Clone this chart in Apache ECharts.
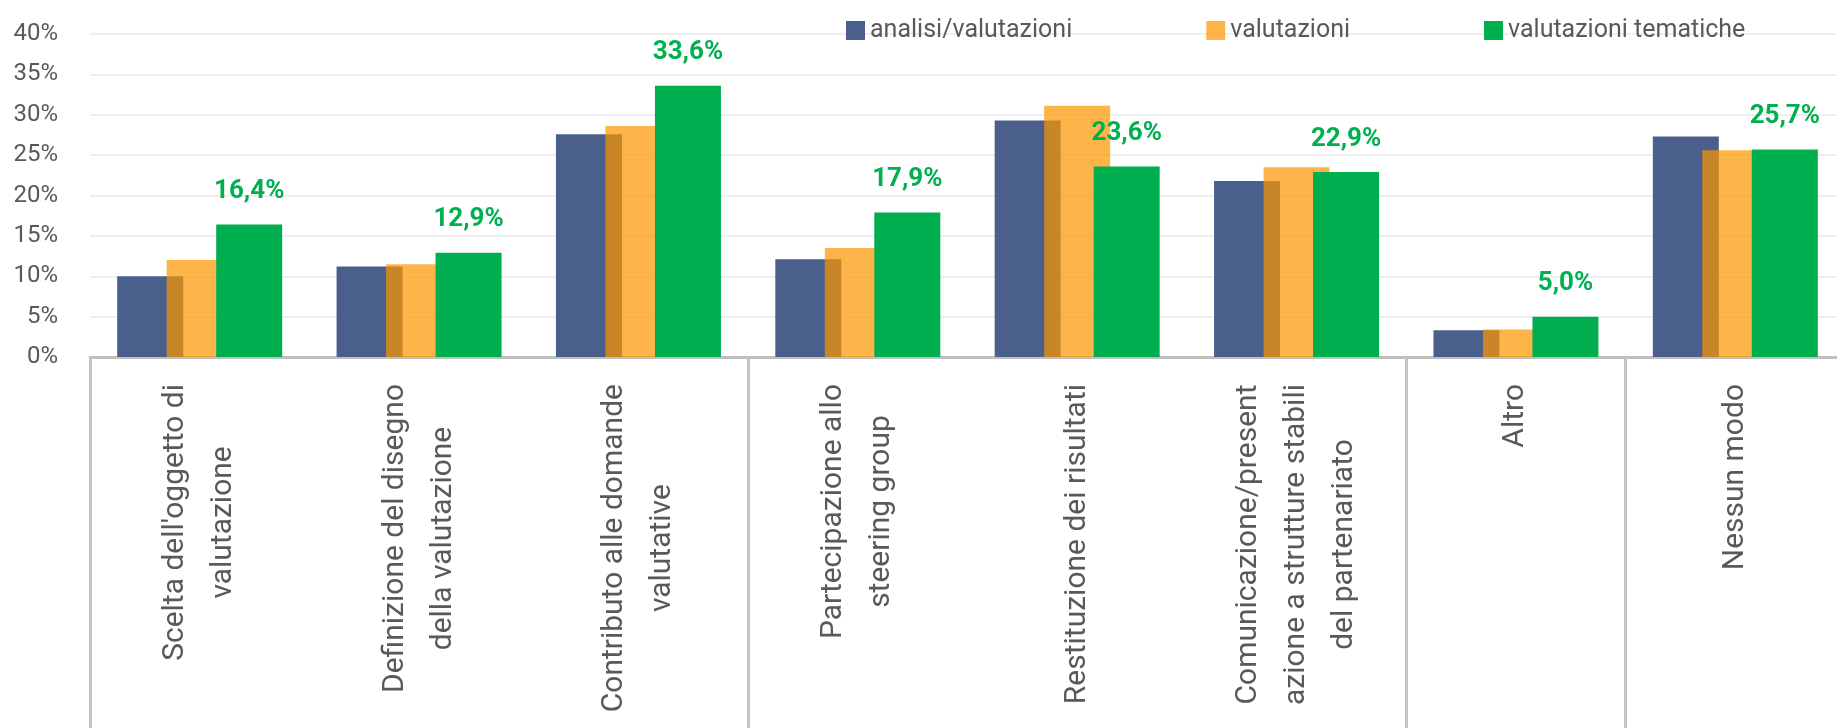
<!DOCTYPE html>
<html lang="it">
<head>
    <meta charset="UTF-8">
    <title>Grafico</title>
    <style>
        html, body { margin: 0; padding: 0; background: #fff; }
        .container { width: 1837px; height: 728px; }
    </style>
    <script src="https://cdn.jsdelivr.net/npm/echarts@6.0.0/dist/echarts.min.js"></script>
</head>
<body>
    <div class="container"></div>
    <script>
        // categorie (a capo come nell'originale)
        var categorie = [
            "Scelta dell'oggetto di\nvalutazione",
            'Definizione del disegno\ndella valutazione',
            'Contributo alle domande\nvalutative',
            'Partecipazione allo\nsteering group',
            'Restituzione dei risultati',
            'Comunicazione/present\nazione a strutture stabili\ndel partenariato',
            'Altro',
            'Nessun modo'
        ];
        var nomiSerie = ['analisi/valutazioni', 'valutazioni', 'valutazioni tematiche'];
        var analisiValutazioni = [10.0, 11.2, 27.6, 12.1, 29.3, 21.8, 3.3, 27.3];
        var valutazioni = [12.0, 11.5, 28.6, 13.5, 31.1, 23.5, 3.4, 25.6];
        var valutazioniTematiche = [16.4, 12.9, 33.6, 17.9, 23.6, 22.9, 5.0, 25.7];
        // separatori sull'asse x (indice della categoria a destra del separatore)
        var separatori = [0, 3, 6, 7];

        var grigio = '#595959';
        var font = 'Roboto, "Noto Sans", sans-serif';

        const main = document.getElementsByClassName('container')[0];
        const myChart = echarts.init(main, null, { renderer: 'canvas' });

        myChart.setOption({
            backgroundColor: '#ffffff',
            animation: false,
            textStyle: { fontFamily: font },
            legend: {
                left: 841,
                top: 13,
                itemWidth: 19,
                itemHeight: 19,
                itemGap: 134,
                icon: 'rect',
                textStyle: { fontSize: 25, color: grigio, fontFamily: font },
                data: nomiSerie
            },
            grid: {
                left: 90,
                right: -8,
                top: 34,
                bottom: 371,
                containLabel: false,
                outerBoundsMode: 'none'
            },
            xAxis: {
                type: 'category',
                data: categorie,
                axisLine: { lineStyle: { color: '#bfbfbf', width: 3 } },
                axisTick: {
                    show: true,
                    length: 375,
                    interval: function (index) {
                        return separatori.indexOf(index) >= 0;
                    },
                    lineStyle: { color: '#c4c4c4', width: 3 }
                },
                axisLabel: {
                    interval: 0,
                    rotate: 90,
                    margin: 27,
                    color: grigio,
                    fontSize: 30,
                    lineHeight: 48,
                    fontFamily: font,
                    formatter: function (v) {
                        return v.split('\n').map(function (s) { return '{c|' + s + '}'; }).join('\n');
                    },
                    rich: {
                        c: { align: 'center', fontSize: 30, lineHeight: 48, color: grigio, fontFamily: font }
                    }
                }
            },
            yAxis: {
                type: 'value',
                min: 0,
                max: 40,
                interval: 5,
                axisLine: { show: false },
                axisTick: { show: false },
                axisLabel: {
                    formatter: '{value}%',
                    fontSize: 24,
                    color: grigio,
                    margin: 32,
                    fontFamily: font
                },
                splitLine: { lineStyle: { color: '#efefef', width: 2 } }
            },
            series: [
                {
                    name: nomiSerie[0],
                    type: 'bar',
                    barWidth: 66,
                    barGap: '-25%',
                    itemStyle: { color: '#4a5f8c' },
                    data: analisiValutazioni
                },
                {
                    name: nomiSerie[1],
                    type: 'bar',
                    barWidth: 66,
                    barGap: '-25%',
                    itemStyle: { color: '#fc9700', opacity: 0.71 },
                    data: valutazioni
                },
                {
                    name: nomiSerie[2],
                    type: 'bar',
                    barWidth: 66,
                    barGap: '-25%',
                    itemStyle: { color: '#00ad4f' },
                    label: {
                        show: true,
                        position: 'top',
                        distance: 20,
                        color: '#00b050',
                        fontWeight: 'bold',
                        fontSize: 26,
                        fontFamily: font,
                        formatter: function (p) {
                            return p.value.toFixed(1).replace('.', ',') + '%';
                        }
                    },
                    data: valutazioniTematiche
                }
            ]
        });
    </script>
</body>
</html>
